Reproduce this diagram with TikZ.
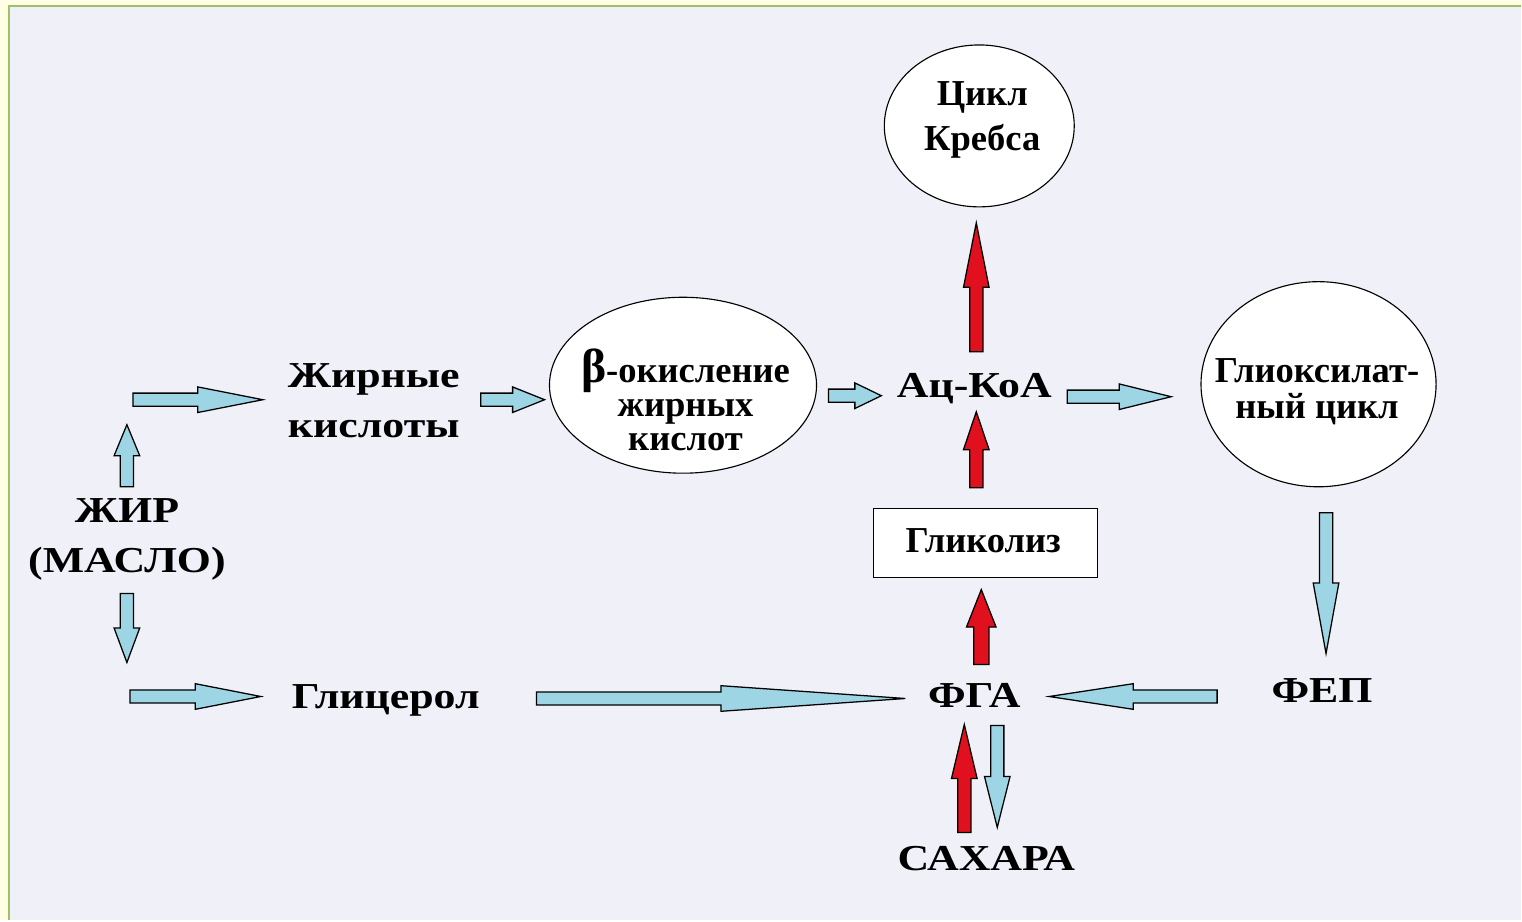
\documentclass[tikz,border=0pt]{standalone}
\usepackage{fontspec}
\setmainfont{Liberation Serif}
\newfontfamily\widefont[FakeStretch=1.2]{Liberation Serif}
\usetikzlibrary{positioning,calc,shapes.geometric}

\begin{document}
\begin{tikzpicture}[x=0.025cm, y=-0.025cm]

      \definecolor{outerbg}{HTML}{FFFFE3}
      \definecolor{panel}{HTML}{F0F0F8}
      \definecolor{framegreen}{HTML}{9EC068}
      \definecolor{flowblue}{HTML}{9DD5E5}
      \definecolor{flowred}{HTML}{E0101E}

      \newcommand{\termfont}[0]{\widefont\bfseries\fontsize{26}{35.5}\selectfont}
      \newcommand{\cyclefont}[0]{\bfseries\fontsize{26}{24}\selectfont\lineskiplimit=-30pt}

      \tikzset{
        flowshaft/.store in=\flowshaft, flowshaft=0.165cm,
        flowhead/.store in=\flowhead,   flowhead=0.32cm,
        flowneck/.store in=\flowneck,   flowneck=0.5
      }

      \tikzstyle{term}    = [inner sep=0pt, align=center, font=\termfont]
      \tikzstyle{inner}   = [inner sep=0pt, align=center, font=\cyclefont]
      \tikzstyle{pathway} = [ellipse, draw=black, line width=0.8pt, fill=white, inner sep=0pt]
      \tikzstyle{stage}   = [rectangle, draw=black, line width=0.9pt, fill=white, inner sep=0pt]

      \tikzstyle{flow} = [draw=black, line width=0.9pt, fill=flowblue, line join=miter,
        to path={($(\tikztostart)!\flowshaft!90:(\tikztotarget)$)
          -- ($(\tikztostart)!\flowneck!(\tikztotarget)!\flowshaft!90:(\tikztotarget)$)
          -- ($(\tikztostart)!\flowneck!(\tikztotarget)!\flowhead!90:(\tikztotarget)$)
          -- (\tikztotarget)
          -- ($(\tikztostart)!\flowneck!(\tikztotarget)!\flowhead!-90:(\tikztotarget)$)
          -- ($(\tikztostart)!\flowneck!(\tikztotarget)!\flowshaft!-90:(\tikztotarget)$)
          -- ($(\tikztostart)!\flowshaft!-90:(\tikztotarget)$) -- cycle}]
      \tikzstyle{redflow} = [flow, fill=flowred]

      % slide background
      \fill [outerbg] (0,0) rectangle (1522,921);
      \fill [panel]   (9,6) rectangle (1522,921);
      \draw [framegreen, line width=1.6pt] (9,921) -- (9,6) -- (1522,6);

      % boxes
      \node [pathway, minimum width=4.75cm, minimum height=4.05cm] (krebs)      at (980,126)     {};
      \node [pathway, minimum width=6.68cm, minimum height=4.4cm]  (betaox)     at (683.5,385.5) {};
      \node [pathway, minimum width=5.88cm, minimum height=5.13cm] (glyox)      at (1319.5,384.5) {};
      \node [stage,   minimum width=5.6cm,  minimum height=1.73cm] (glycolysis) at (986,543.5)   {};

      \node [inner] (krebstext) at (983,120) {Цикл\\[8pt]Кребса};
      \node [inner] (betatext)  at (686,400) {{\fontsize{34}{24}\selectfont β}-окисление\\жирных\\кислот};
      \node [inner] (glyoxtext) at (1318,392) {Глиоксилат-\\[2pt]ный цикл};
      \node [inner, anchor=base] (glycotext) at (984,553) {Гликолиз};

      \node [term]               (fat)      at (127,539.5) {ЖИР\\(МАСЛО)};
      \node [term]               (acids)    at (374,401)   {Жирные\\кислоты};
      \node [term, anchor=base]  (glycerol) at (386,709)   {Глицерол};
      \node [term, anchor=base]  (acoa)     at (975,398)   {Ац-КоА};
      \node [term]               (pga)      at (975,696)   {ФГА};
      \node [term]               (pep)      at (1323,691.5) {ФЕП};
      \node [term]               (sugar)    at (987,859.5) {САХАРА};

      % arrow ends
      \coordinate (fatup-s)      at (127,487);  \coordinate (fatup-e)      at (127,425);
      \coordinate (fatdown-s)    at (127,594);  \coordinate (fatdown-e)    at (127,663);
      \coordinate (toacids-s)    at (133,400);  \coordinate (toacids-e)    at (263,400);
      \coordinate (tobeta-s)     at (481,400);  \coordinate (tobeta-e)     at (545,400);
      \coordinate (toacoa-s)     at (829,396);  \coordinate (toacoa-e)     at (882,396);
      \coordinate (toglyox-s)    at (1068,397); \coordinate (toglyox-e)    at (1172,397);
      \coordinate (topep-s)      at (1327,513); \coordinate (topep-e)      at (1327,654);
      \coordinate (toglycerol-s) at (130,697);  \coordinate (toglycerol-e) at (261,697);
      \coordinate (glytopga-s)   at (537,699);  \coordinate (glytopga-e)   at (906,699);
      \coordinate (peptopga-s)   at (1218,697); \coordinate (peptopga-e)   at (1050,697);
      \coordinate (tosugar-s)    at (998,726);  \coordinate (tosugar-e)    at (998,828);
      \coordinate (sugartopga-s) at (965,833);  \coordinate (sugartopga-e) at (965,725);
      \coordinate (pgatoglyc-s)  at (982,665);  \coordinate (pgatoglyc-e)  at (982,590);
      \coordinate (glyctoacoa-s) at (977,488);  \coordinate (glyctoacoa-e) at (977,412);
      \coordinate (acoatokr-s)   at (977,352);  \coordinate (acoatokr-e)   at (977,223);

      \draw [flow] (fatup-s)      to (fatup-e);
      \draw [flow] (fatdown-s)    to (fatdown-e);
      \draw [flow] (toacids-s)    to (toacids-e);
      \draw [flow] (tobeta-s)     to (tobeta-e);
      \draw [flow] (toacoa-s)     to (toacoa-e);
      \draw [flow] (toglyox-s)    to (toglyox-e);
      \draw [flow] (topep-s)      to (topep-e);
      \draw [flow] (toglycerol-s) to (toglycerol-e);
      \draw [flow] (glytopga-s)   to (glytopga-e);
      \draw [flow] (peptopga-s)   to (peptopga-e);
      \draw [flow] (tosugar-s)    to (tosugar-e);

      \draw [redflow]                                   (sugartopga-s) to (sugartopga-e);
      \draw [redflow, flowshaft=0.19cm, flowhead=0.37cm] (pgatoglyc-s)  to (pgatoglyc-e);
      \draw [redflow]                                   (glyctoacoa-s) to (glyctoacoa-e);
      \draw [redflow]                                   (acoatokr-s)   to (acoatokr-e);

    \end{tikzpicture}
\end{document}
